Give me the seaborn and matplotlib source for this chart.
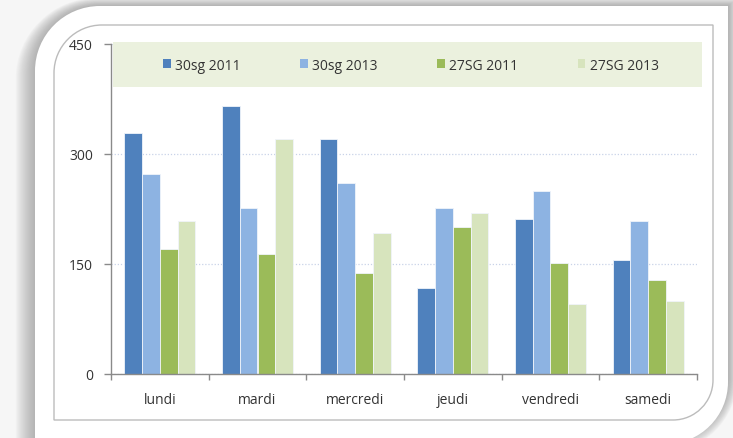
import numpy as np
import pandas as pd
import matplotlib
matplotlib.use("Agg")
import matplotlib.pyplot as plt
import seaborn as sns
from matplotlib.path import Path
from matplotlib.patches import PathPatch, Rectangle, Patch

# données
jours = ["lundi", "mardi", "mercredi", "jeudi", "vendredi", "samedi"]
series = ["30sg 2011", "30sg 2013", "27SG 2011", "27SG 2013"]
v_30sg_2011 = [329, 366, 320, 117, 211, 155]
v_30sg_2013 = [273, 226, 260, 226, 250, 209]
v_27sg_2011 = [170, 164, 138, 200, 152, 128]
v_27sg_2013 = [209, 320, 192, 219, 96, 100]
couleurs = ["#4F81BD", "#8DB3E2", "#9BBB59", "#D7E4BD"]

valeurs = [v_30sg_2011, v_30sg_2013, v_27sg_2011, v_27sg_2013]
df = pd.DataFrame([
    {"jour": j, "serie": s, "valeur": v}
    for s, vals in zip(series, valeurs)
    for j, v in zip(jours, vals)
])

W, H = 733, 439


def carte(x0, y0, x1, y1, r_tl, r_br):
    """Contour avec coins arrondis en haut à gauche et en bas à droite (pixels, y vers le bas)."""
    k = 0.5523
    verts = [
        (x0, y0 + r_tl),
        (x0, y0 + r_tl * (1 - k)), (x0 + r_tl * (1 - k), y0), (x0 + r_tl, y0),
        (x1, y0),
        (x1, y1 - r_br),
        (x1, y1 - r_br * (1 - k)), (x1 - r_br * (1 - k), y1), (x1 - r_br, y1),
        (x0, y1),
        (x0, y0 + r_tl),
    ]
    codes = [Path.MOVETO,
             Path.CURVE4, Path.CURVE4, Path.CURVE4,
             Path.LINETO, Path.LINETO,
             Path.CURVE4, Path.CURVE4, Path.CURVE4,
             Path.LINETO, Path.CLOSEPOLY]
    return Path(verts, codes)


sns.set_theme(style="white")
plt.rcParams['font.family'] = ['Open Sans', 'DejaVu Sans']

fig = plt.figure(figsize=(W / 100, H / 100), dpi=100, facecolor="#f6f6f6")

# fond : ombre + carte blanche
bg = fig.add_axes([0, 0, 1, 1], zorder=-5)
bg.set_xlim(0, W)
bg.set_ylim(H, 0)
bg.axis("off")
for i in range(16, 0, -1):
    bg.add_patch(PathPatch(carte(35 - i * 1.2, 7 - i * 0.5, 728 + i * 0.6, 438 + i, 65 + i, 60 + i),
                           facecolor="#808080", edgecolor="none", alpha=0.045))
bg.add_patch(PathPatch(carte(35, 7, 728, 445, 65, 62), facecolor="white", edgecolor="none"))
bg.add_patch(PathPatch(carte(54, 26, 713, 421, 48, 40), facecolor="none",
                       edgecolor="#bcbcbc", linewidth=1.0))

# zone de tracé
ax = fig.add_axes([111 / W, 1 - 375 / H, 586 / W, 330 / H])
ax.set_facecolor("none")
sns.barplot(data=df, x="jour", y="valeur", hue="serie", palette=couleurs,
            hue_order=series, order=jours, width=0.73, saturation=1,
            errorbar=None, edgecolor="#f0f4fa", linewidth=0.6, ax=ax)
ax.get_legend().remove()

ax.set_ylim(0, 450)
ax.set_xlim(-0.5, len(jours) - 0.5)
ax.set_yticks([0, 150, 300, 450])
ax.set_xlabel("")
ax.set_ylabel("")
ax.yaxis.grid(True, linestyle=(0, (1, 1.5)), color="#c9d3e8", linewidth=0.9)
ax.set_axisbelow(True)

for s in ["top", "right"]:
    ax.spines[s].set_visible(False)
for s in ["left", "bottom"]:
    ax.spines[s].set_color("#8a8a8a")
    ax.spines[s].set_linewidth(1.0)

ax.set_xticks(np.arange(-0.5, len(jours), 1.0), minor=True)
ax.tick_params(axis="x", which="major", length=0, pad=13, labelsize=10, labelcolor="#333333")
ax.tick_params(axis="x", which="minor", length=4, width=1, color="#8a8a8a", direction="out", bottom=True)
ax.tick_params(axis="y", which="major", length=5, width=1, color="#8a8a8a", direction="out",
               left=True, pad=8, labelsize=10, labelcolor="#333333")

# bandeau de légende
fig.patches.append(Rectangle((113 / W, 1 - 88 / H), 589 / W, 45 / H,
                             transform=fig.transFigure, facecolor="#EBF1DE",
                             edgecolor="none", zorder=1))
poignees = [Patch(facecolor=c, edgecolor="none") for c in couleurs]
leg = fig.legend(poignees, series, loc="center left", ncol=4,
                 bbox_to_anchor=(163 / W, 1 - 66 / H),
                 frameon=False, fontsize=10, handlelength=0.55, handleheight=0.55,
                 handletextpad=0.3, columnspacing=4.3, borderaxespad=0, borderpad=0)
leg.set_zorder(2)
for t in leg.get_texts():
    t.set_color("#333333")

fig.savefig("out.png", dpi=100, facecolor=fig.get_facecolor())
